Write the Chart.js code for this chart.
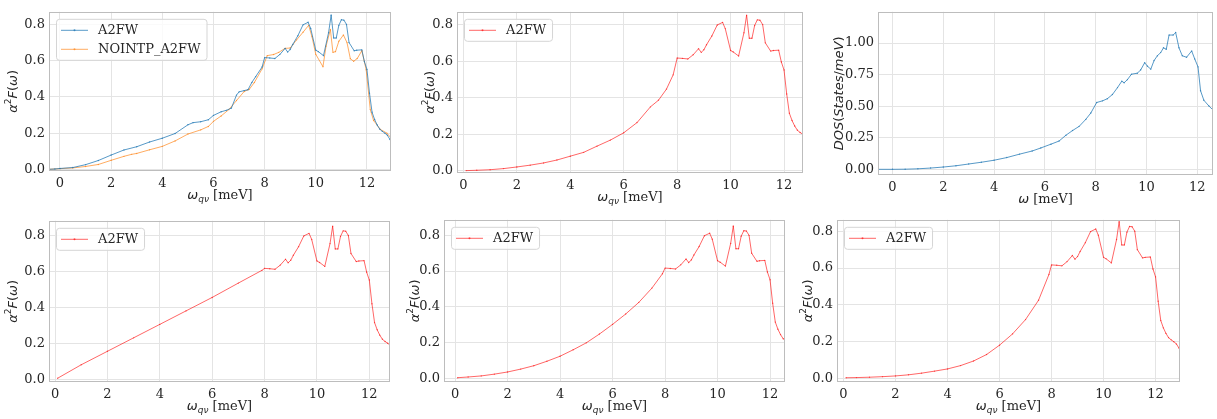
<!DOCTYPE html>
<html>
<head>
<meta charset="utf-8">
<script src="https://cdn.jsdelivr.net/npm/chart.js@4.4.0/dist/chart.umd.min.js"></script>
<style>
html, body { margin: 0; padding: 0; background: #fff; }
body { width: 1217px; height: 419px; position: relative; overflow: hidden; }
canvas { position: absolute; }
</style>
</head>
<body>
<canvas id="c1"></canvas>
<canvas id="c2"></canvas>
<canvas id="c3"></canvas>
<canvas id="c4"></canvas>
<canvas id="c5"></canvas>
<canvas id="c6"></canvas>
<script>
// ticks
const xTicks = [0, 2, 4, 6, 8, 10, 12];
const a2fTicks = [0, 0.2, 0.4, 0.6, 0.8];
const dosTicks = [0, 0.25, 0.5, 0.75, 1.0];

// partie haute commune (omega >= 8 meV)
const peakOmega = [8.0, 8.2, 8.4, 8.6, 8.8, 8.9, 9.0, 9.1, 9.3, 9.5, 9.7, 9.8, 10.0, 10.1, 10.3, 10.5, 10.6, 10.7, 10.8, 10.9, 11.0, 11.1, 11.2, 11.3, 11.5, 11.6, 11.8, 11.9, 12.0, 12.1, 12.2, 12.3, 12.4, 12.5, 12.6, 12.7, 12.8, 12.9, 13.0];
const peakA2FW = [0.617, 0.615, 0.612, 0.635, 0.668, 0.648, 0.662, 0.69, 0.738, 0.798, 0.812, 0.778, 0.658, 0.65, 0.628, 0.755, 0.852, 0.725, 0.725, 0.795, 0.826, 0.824, 0.8, 0.7, 0.655, 0.658, 0.66, 0.595, 0.552, 0.42, 0.315, 0.275, 0.245, 0.222, 0.21, 0.2, 0.188, 0.165, 0.15];

// panneau 1 : A2FW (bas) et NOINTP_A2FW
const p1Omega = [-0.5, -0.2, 0, 0.5, 1, 1.5, 2, 2.5, 3, 3.5, 4, 4.5, 5, 5.2, 5.5, 5.8, 6, 6.3, 6.5, 6.7, 6.9, 7.0, 7.2, 7.35, 7.5, 7.65, 7.9];
const p1A2FW = [0, 0.002, 0.005, 0.01, 0.026, 0.049, 0.079, 0.107, 0.125, 0.151, 0.172, 0.198, 0.246, 0.258, 0.263, 0.274, 0.298, 0.318, 0.326, 0.338, 0.41, 0.428, 0.435, 0.44, 0.48, 0.512, 0.565];
const noIntpOmega = [-0.5, 0, 0.5, 1, 1.5, 2, 2.5, 2.8, 3, 3.5, 4, 4.5, 5, 5.5, 5.8, 6, 6.3, 6.6, 6.9, 7.2, 7.4, 7.6, 7.9, 8.1, 8.35, 8.55, 8.8, 9.0, 9.25, 9.5, 9.72, 9.85, 10.0, 10.28, 10.4, 10.57, 10.67, 10.77, 10.9, 11.08, 11.22, 11.35, 11.48, 11.62, 11.8, 11.97, 12.13, 12.26, 12.52, 12.78, 12.95];
const noIntpA2FW = [0, 0.004, 0.008, 0.016, 0.027, 0.05, 0.072, 0.083, 0.088, 0.108, 0.127, 0.157, 0.195, 0.218, 0.237, 0.265, 0.295, 0.33, 0.38, 0.43, 0.442, 0.48, 0.555, 0.628, 0.634, 0.646, 0.668, 0.67, 0.715, 0.757, 0.795, 0.733, 0.635, 0.567, 0.68, 0.772, 0.646, 0.65, 0.707, 0.742, 0.7, 0.611, 0.597, 0.612, 0.655, 0.55, 0.33, 0.27, 0.221, 0.2, 0.172];

// panneau 2
const p2Omega = [0.1, 0.5, 1, 1.5, 2, 2.5, 3, 3.5, 4, 4.5, 5, 5.5, 6, 6.5, 7, 7.3, 7.6, 7.85];
const p2A2FW = [0.001, 0.003, 0.006, 0.012, 0.021, 0.031, 0.043, 0.059, 0.08, 0.101, 0.135, 0.168, 0.208, 0.264, 0.35, 0.386, 0.447, 0.525];

// panneau 3 : DOS
const dosOmega = [-0.6, 0, 0.5, 1, 1.5, 2, 2.5, 3, 3.5, 4, 4.5, 5, 5.5, 5.84, 6.24, 6.56, 6.83, 7.09, 7.35, 7.61, 7.81, 8.04, 8.27, 8.46, 8.66, 8.86, 9.03, 9.12, 9.25, 9.41, 9.64, 9.77, 9.93, 10.04, 10.17, 10.3, 10.43, 10.56, 10.67, 10.78, 10.89, 11.05, 11.15, 11.28, 11.41, 11.58, 11.78, 11.9, 12.03, 12.13, 12.26, 12.46, 12.64];
const dosValues = [0, 0, 0.001, 0.004, 0.01, 0.018, 0.028, 0.042, 0.056, 0.072, 0.093, 0.12, 0.145, 0.169, 0.199, 0.224, 0.27, 0.307, 0.34, 0.395, 0.446, 0.529, 0.542, 0.559, 0.592, 0.647, 0.698, 0.685, 0.71, 0.753, 0.761, 0.786, 0.844, 0.816, 0.793, 0.861, 0.899, 0.924, 0.962, 0.95, 1.063, 1.063, 1.083, 0.962, 0.899, 0.887, 0.937, 0.874, 0.811, 0.622, 0.547, 0.501, 0.466];

// panneaux 4, 5, 6 : partie basse
const p4Omega = [0.1, 1, 2, 3, 4, 5, 6, 7, 7.9];
const p4A2FW = [0.005, 0.08, 0.155, 0.23, 0.305, 0.38, 0.455, 0.535, 0.606];
const p5Omega = [0.1, 0.5, 1, 1.5, 2, 2.5, 3, 3.5, 4, 4.5, 5, 5.5, 6, 6.5, 7, 7.5, 7.9];
const p5A2FW = [0.004, 0.008, 0.014, 0.024, 0.036, 0.052, 0.071, 0.096, 0.124, 0.16, 0.199, 0.248, 0.302, 0.36, 0.425, 0.505, 0.585];
const p6Omega = [0.1, 0.5, 1, 1.5, 2, 2.5, 3, 3.5, 4, 4.5, 5, 5.5, 6, 6.5, 7, 7.5, 7.9];
const p6A2FW = [0.004, 0.005, 0.007, 0.01, 0.014, 0.02, 0.029, 0.04, 0.052, 0.07, 0.095, 0.13, 0.181, 0.242, 0.32, 0.425, 0.565];

// textes
const IT = 'italic 13px "DejaVu Sans"';
const UP = '13px "DejaVu Sans"';
const SUB = 'italic 9px "DejaVu Sans"';
const SUP = '9px "DejaVu Sans"';
const SERIF = '13px "DejaVu Serif"';
const a2fTitle = [{t: 'α', f: IT}, {t: '2', f: SUP, dy: -6}, {t: 'F', f: IT}, {t: '(', f: UP}, {t: 'ω', f: IT}, {t: ')', f: UP}];
const dosTitle = [{t: 'DOS', f: IT}, {t: '(', f: UP}, {t: 'States', f: IT}, {t: '/', f: UP}, {t: 'meV', f: IT}, {t: ')', f: UP}];
const wqvTitle = [{t: 'ω', f: IT}, {t: 'qν', f: SUB, dy: 3}, {t: ' [meV]', f: SERIF}];
const wTitle = [{t: 'ω', f: IT}, {t: ' [meV]', f: SERIF}];

const BLUE = 'rgba(31, 119, 180, 0.75)';
const ORANGE = 'rgba(255, 127, 14, 0.65)';
const RED = 'rgba(255, 0, 0, 0.6)';

function join(a, b) { return a.concat(b); }

const panels = [
  {id: 'c1', box: [49, 4, 391, 171], x: [-0.43, 12.94], y: [-0.009, 0.87], yTicks: a2fTicks, dec: 1, yTitle: a2fTitle, xTitle: wqvTitle, off: 37,
    series: [{label: 'A2FW', color: BLUE, xs: join(p1Omega, peakOmega), ys: join(p1A2FW, peakA2FW)},
             {label: 'NOINTP_A2FW', color: ORANGE, xs: noIntpOmega, ys: noIntpA2FW}]},
  {id: 'c2', box: [457, 4, 803, 173], x: [-0.24, 12.71], y: [-0.012, 0.87], yTicks: a2fTicks, dec: 1, yTitle: a2fTitle, xTitle: wqvTitle, off: 28,
    series: [{label: 'A2FW', color: RED, xs: join(p2Omega, peakOmega), ys: join(p2A2FW, peakA2FW)}]},
  {id: 'c3', box: [878, 4, 1213, 175], x: [-0.57, 12.62], y: [-0.045, 1.247], yTicks: dosTicks, dec: 2, yTitle: dosTitle, xTitle: wTitle, off: 40,
    series: [{label: null, color: BLUE, xs: dosOmega, ys: dosValues}]},
  {id: 'c4', box: [49, 213, 390, 382], x: [-0.23, 12.79], y: [-0.016, 0.882], yTicks: a2fTicks, dec: 1, yTitle: a2fTitle, xTitle: wqvTitle, off: 37,
    series: [{label: 'A2FW', color: RED, xs: join(p4Omega, peakOmega), ys: join(p4A2FW, peakA2FW)}]},
  {id: 'c5', box: [444, 212, 785, 382], x: [-0.42, 12.57], y: [-0.02, 0.887], yTicks: a2fTicks, dec: 1, yTitle: a2fTitle, xTitle: wqvTitle, off: 30,
    series: [{label: 'A2FW', color: RED, xs: join(p5Omega, peakOmega), ys: join(p5A2FW, peakA2FW)}]},
  {id: 'c6', box: [837, 212, 1180, 382], x: [-0.25, 12.94], y: [-0.019, 0.862], yTicks: a2fTicks, dec: 1, yTitle: a2fTitle, xTitle: wqvTitle, off: 30,
    series: [{label: 'A2FW', color: RED, xs: join(p6Omega, peakOmega), ys: join(p6A2FW, peakA2FW)}]}
];

const YW = 50, XH = 34, PT = 4, PR = 4;
const tickFont = {family: 'DejaVu Serif', size: 13};
const textColor = '#262626';

// texte "riche" centré en x, ligne de base en y
function rich(ctx, parts, x, y) {
  let w = 0;
  parts.forEach(p => { ctx.font = p.f; p.w = ctx.measureText(p.t).width; w += p.w; });
  let cx = x - w / 2;
  parts.forEach(p => { ctx.font = p.f; ctx.fillText(p.t, cx, y + (p.dy || 0)); cx += p.w; });
}

function makePlugin(p) {
  return {
    id: 'decor',
    afterDraw(chart) {
      const ctx = chart.ctx, a = chart.chartArea;
      ctx.save();
      // cadre
      ctx.strokeStyle = '#bdbdbd';
      ctx.lineWidth = 1;
      ctx.strokeRect(Math.round(a.left) + 0.5, Math.round(a.top) + 0.5, Math.round(a.right - a.left) - 1, Math.round(a.bottom - a.top) - 1);
      // titres des axes
      ctx.fillStyle = textColor;
      ctx.textAlign = 'left';
      ctx.textBaseline = 'alphabetic';
      rich(ctx, p.xTitle, (a.left + a.right) / 2, a.bottom + 27.5);
      ctx.save();
      ctx.translate(a.left - p.off, (a.top + a.bottom) / 2);
      ctx.rotate(-Math.PI / 2);
      rich(ctx, p.yTitle, 0, 4.5);
      ctx.restore();
      // légende
      const items = p.series.filter(s => s.label);
      if (items.length) {
        ctx.font = '13px "DejaVu Serif"';
        const tw = Math.max(...items.map(s => ctx.measureText(s.label).width));
        const bx = a.left + 7, by = a.top + 7;
        const bw = 42 + tw + 6, bh = 22 + 19 * (items.length - 1);
        ctx.beginPath();
        ctx.roundRect(bx + 0.5, by + 0.5, bw, bh, 3);
        ctx.fillStyle = 'rgba(255,255,255,0.8)';
        ctx.fill();
        ctx.strokeStyle = '#d5d5d5';
        ctx.stroke();
        items.forEach((s, i) => {
          const cy = by + 11 + 19 * i;
          ctx.strokeStyle = s.color;
          ctx.lineWidth = 1;
          ctx.beginPath();
          ctx.moveTo(bx + 5, cy + 0.5);
          ctx.lineTo(bx + 32, cy + 0.5);
          ctx.stroke();
          ctx.fillStyle = s.color;
          ctx.beginPath();
          ctx.arc(bx + 18.5, cy + 0.5, 1, 0, Math.PI * 2);
          ctx.fill();
          ctx.fillStyle = textColor;
          ctx.textBaseline = 'middle';
          ctx.fillText(s.label, bx + 42, cy + 1);
        });
      }
      ctx.restore();
    }
  };
}

panels.forEach(p => {
  const [L, T, R, B] = p.box;
  const cv = document.getElementById(p.id);
  const w = R - L + YW + PR, h = B - T + PT + XH;
  cv.width = w; cv.height = h;
  cv.style.width = w + 'px'; cv.style.height = h + 'px';
  cv.style.left = (L - YW) + 'px';
  cv.style.top = (T - PT) + 'px';

  new Chart(cv.getContext('2d'), {
    type: 'line',
    data: {
      datasets: p.series.map(s => ({
        label: s.label || '',
        data: s.xs.map((x, i) => ({x: x, y: s.ys[i]})),
        borderColor: s.color,
        backgroundColor: s.color,
        borderWidth: 1,
        pointRadius: 0.7,
        pointBorderWidth: 0,
        tension: 0
      }))
    },
    options: {
      responsive: false,
      animation: false,
      events: [],
      layout: {padding: {top: PT, right: PR, left: 0, bottom: 0}},
      plugins: {legend: {display: false}, tooltip: {enabled: false}},
      scales: {
        x: {
          type: 'linear', min: p.x[0], max: p.x[1],
          afterBuildTicks: sc => { sc.ticks = xTicks.map(v => ({value: v})); },
          afterFit: sc => { sc.height = XH; },
          grid: {color: '#e4e4e4', drawTicks: false},
          border: {display: false},
          ticks: {font: tickFont, color: textColor, padding: 5, maxRotation: 0, callback: v => String(v)}
        },
        y: {
          type: 'linear', min: p.y[0], max: p.y[1],
          afterBuildTicks: sc => { sc.ticks = p.yTicks.map(v => ({value: v})); },
          afterFit: sc => { sc.width = YW; },
          grid: {color: '#e4e4e4', drawTicks: false},
          border: {display: false},
          ticks: {font: tickFont, color: textColor, padding: 4, callback: v => v.toFixed(p.dec)}
        }
      }
    },
    plugins: [makePlugin(p)]
  });
});
</script>
</body>
</html>
